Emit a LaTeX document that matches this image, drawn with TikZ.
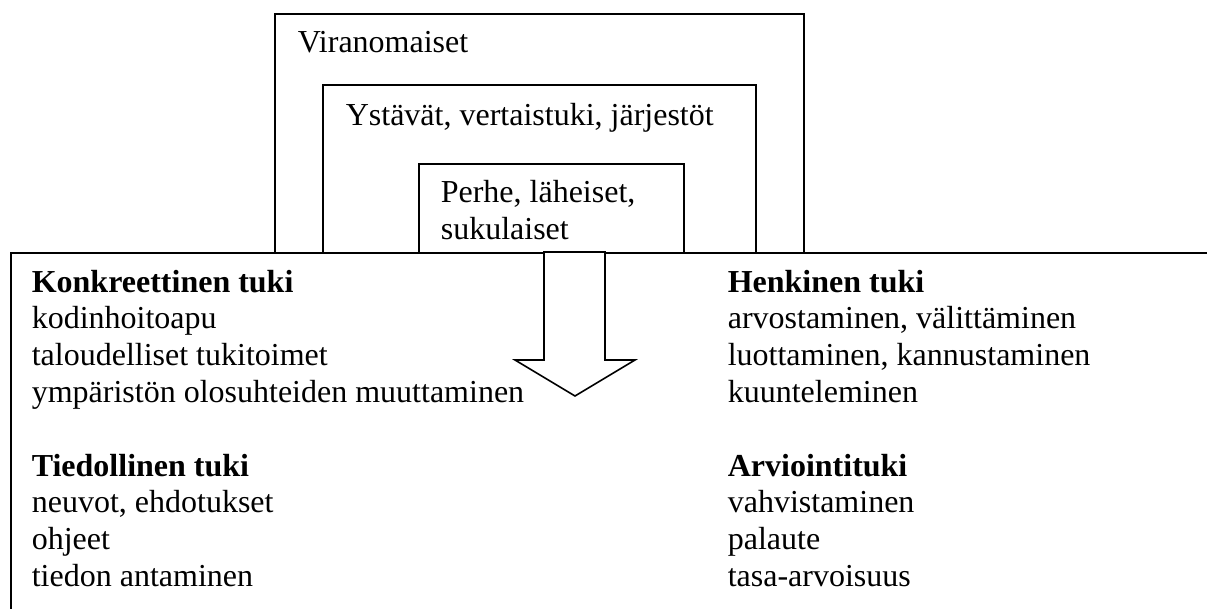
\documentclass[tikz,border=0pt]{standalone}
\usepackage{fontspec}
\setmainfont{Liberation Serif}
\usetikzlibrary{calc}

\begin{document}
\begin{tikzpicture}[
    x=1pt, y=-1pt,
    font=\fontsize{32}{37}\selectfont,
    line width=1.6pt,
    ring/.style={
        draw,
        anchor=north west,
        inner sep=0pt,
        fill=white
    },
    label/.style={anchor=base west, inner sep=0pt},
    heading/.style={label, font=\fontsize{32}{37}\selectfont\bfseries},
    item/.style={label}
]
\path[use as bounding box, clip] (0,0) rectangle (1207,608);

% nested circles of support
\node[ring, minimum width=529pt, minimum height=239pt] (viran) at (274,13) {};
\node[ring, minimum width=433pt, minimum height=168pt] (ystavat) at (322,84) {};
\node[ring, minimum width=265pt, minimum height=89pt] (perhe) at (418,163) {};

\node[label] (viranText) at ($(viran.north west)+(23,39)$) {Viranomaiset};
\node[label] (ystavatText) at ($(ystavat.north west)+(23,41)$) {Ystävät, vertaistuki, järjestöt};
\node[label] (perheText) at ($(perhe.north west)+(22,39)$) {Perhe, läheiset,};
\node[label] (sukuText) at ($(perhe.north west)+(22,76)$) {sukulaiset};

% forms of support
\node[ring, minimum width=1300pt, minimum height=600pt] (tuki) at (10,252) {};

\draw[fill=white] (544,252) -- (544,360) -- (515,360) -- (575,396)
    -- (635,360) -- (605,360) -- (605,252) -- cycle;

\node[heading] (konk) at ($(tuki.north west)+(21,40)$) {Konkreettinen tuki};
\node[item] (konk1) at ($(tuki.north west)+(21,76.8)$) {kodinhoitoapu};
\node[item] (konk2) at ($(tuki.north west)+(21,113.6)$) {taloudelliset tukitoimet};
\node[item] (konk3) at ($(tuki.north west)+(21,150.4)$) {ympäristön olosuhteiden muuttaminen};

\node[heading] (tied) at ($(tuki.north west)+(21,224)$) {Tiedollinen tuki};
\node[item] (tied1) at ($(tuki.north west)+(21,260.8)$) {neuvot, ehdotukset};
\node[item] (tied2) at ($(tuki.north west)+(21,297.6)$) {ohjeet};
\node[item] (tied3) at ($(tuki.north west)+(21,334.4)$) {tiedon antaminen};

\node[heading] (henk) at ($(tuki.north west)+(717,40)$) {Henkinen tuki};
\node[item] (henk1) at ($(tuki.north west)+(717,76.8)$) {arvostaminen, välittäminen};
\node[item] (henk2) at ($(tuki.north west)+(717,113.6)$) {luottaminen, kannustaminen};
\node[item] (henk3) at ($(tuki.north west)+(717,150.4)$) {kuunteleminen};

\node[heading] (arvi) at ($(tuki.north west)+(717,224)$) {Arviointituki};
\node[item] (arvi1) at ($(tuki.north west)+(717,260.8)$) {vahvistaminen};
\node[item] (arvi2) at ($(tuki.north west)+(717,297.6)$) {palaute};
\node[item] (arvi3) at ($(tuki.north west)+(717,334.4)$) {tasa-arvoisuus};

\end{tikzpicture}
\end{document}
